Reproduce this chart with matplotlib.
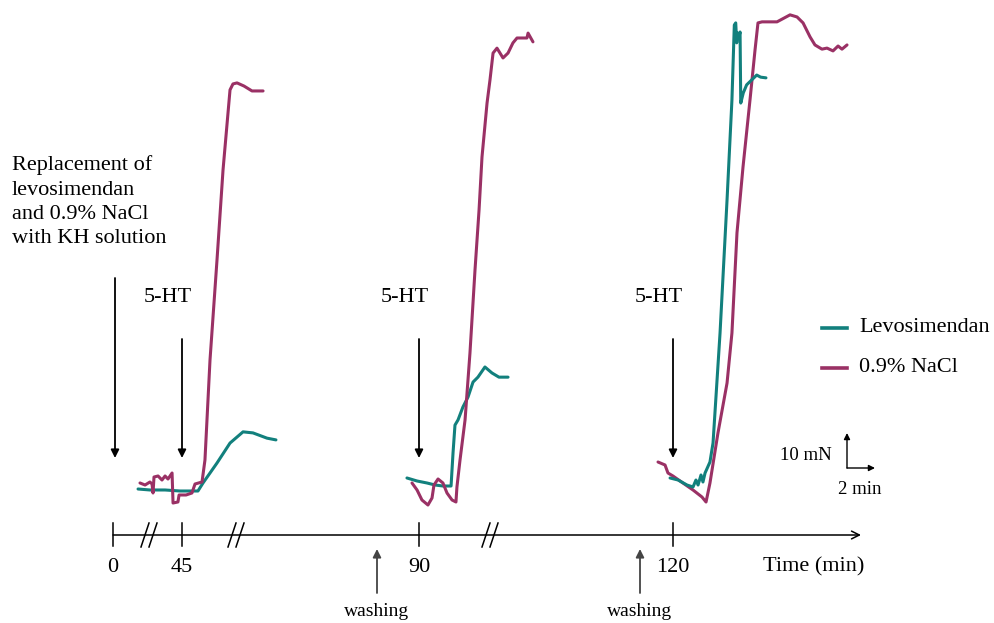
import numpy as np
import matplotlib.pyplot as plt

plt.rcParams['font.family'] = ['Liberation Serif', 'DejaVu Serif']

# --- записи сокращения: время от добавления 5-HT (мин), прирост силы (мН) ---
# 45 мин
levo_45_t = [-3.14, -2.29, -1.21, -0.14, 1.14, 1.5, 2.0, 2.5, 3.43, 4.36, 5.07, 6.07, 6.71]
levo_45_f = [0.57, 0.29, 0.29, 0.0, 0.0, 2.29, 5.14, 8.0, 13.7, 16.9, 16.6, 15.1, 14.6]
nacl_45_t = [-3.0, -2.64, -2.29, -2.14, -2.07, -2.0, -1.71, -1.43, -1.21, -1.0, -0.71, -0.64,
             -0.29, -0.21, 0.29, 0.71, 0.93, 1.43, 1.64, 2.0, 2.5, 2.93, 3.43, 3.64, 3.93,
             4.43, 5.0, 5.79]
nacl_45_f = [2.29, 1.71, 2.57, 2.0, -0.57, 4.0, 4.29, 3.14, 4.29, 3.43, 5.14, -3.43,
             -3.14, -1.14, -1.14, -0.57, 2.0, 2.57, 8.86, 37.4, 66.0, 91.7, 114.6, 116.3, 116.6,
             115.7, 114.3, 114.3]
# 90 мин
levo_90_t = [-0.86, -0.14, 0.57, 1.14, 1.71, 2.29, 2.43, 2.57, 2.79, 3.14, 3.5, 3.86, 4.21,
             4.71, 5.21, 5.71, 6.36]
levo_90_f = [2.29, 1.43, 0.86, 0.29, 0.0, 0.0, 9.43, 17.4, 18.9, 22.6, 25.4, 29.7, 31.1,
             34.0, 32.3, 31.1, 31.1]
nacl_90_t = [-0.5, -0.14, 0.21, 0.64, 0.93, 1.07, 1.36, 1.71, 2.0, 2.36, 2.64, 2.71, 2.93,
             3.29, 3.64, 4.0, 4.29, 4.5, 4.86, 5.07, 5.29, 5.57, 6.0, 6.36, 6.71, 7.0, 7.71,
             7.79, 8.14]
nacl_90_f = [0.86, -1.14, -4.0, -5.43, -3.43, 0.29, 2.0, 0.86, -2.0, -4.0, -4.57, -0.29, 7.43,
             18.9, 38.0, 61.7, 78.9, 94.0, 109.4, 116.0, 123.7, 125.1, 122.3, 123.7, 126.6, 128.0, 128.0,
             129.4, 126.9]
# 120 мин
levo_120_t = [-0.21, 0.36, 1.0, 1.43, 1.64, 1.79, 2.0, 2.14, 2.29, 2.64, 2.86, 3.36, 3.86,
              4.21, 4.38, 4.48, 4.55, 4.62, 4.71, 4.79, 4.84, 5.02, 5.26, 5.62, 5.98, 6.26, 6.64]
levo_120_f = [0.57, 0.0, -1.43, -2.0, 0.0, -1.43, 1.43, -0.57, 2.0, 5.14, 10.6, 42.0, 80.0,
              108.6, 130.0, 130.6, 124.9, 127.7, 126.6, 128.0, 107.7, 110.6, 112.9, 114.3, 115.7, 115.1, 114.9]
nacl_120_t = [-1.07, -0.57, -0.36, 0.0, 0.71, 1.43, 2.07, 2.36, 2.64, 3.21, 3.86, 4.21, 4.57,
              5.0, 5.5, 5.86, 6.07, 6.36, 7.43, 8.36, 8.86, 9.29, 9.79, 10.14, 10.64, 11.0,
              11.43, 11.79, 12.07, 12.43]
nacl_120_f = [5.14, 4.29, 2.0, 1.14, -0.86, -2.86, -4.86, -6.29, -0.86, 13.4, 27.7, 42.0, 70.6,
              89.4, 108.6, 122.9, 130.6, 130.9, 130.9, 132.9, 132.3, 130.6, 126.6, 124.3, 123.1, 123.4,
              122.6, 124.0, 123.1, 124.3]

tick_labels = ['0', '45', '90', '120']
series_names = ['Levosimendan', '0.9% NaCl']
colors = ['#12807d', '#9a3165']

# масштаб рисунка
PX_PER_MIN = 14.0
PX_PER_MN = 3.5
seg_x = [182, 419, 673]          # положение стрелок 5-HT по горизонтали
seg_y = [491, 486, 480]          # базовая линия каждой записи
tick_x = [113] + seg_x

fig = plt.figure(figsize=(9.95, 6.23), dpi=100)
ax = fig.add_axes([0, 0, 1, 1])
ax.set_xlim(0, 995)
ax.set_ylim(623, 0)
ax.axis('off')


def trace(t, f, i, color):
    x = seg_x[i] + np.array(t) * PX_PER_MIN
    y = seg_y[i] - np.array(f) * PX_PER_MN
    ax.plot(x, y, color=color, lw=2.2, solid_joinstyle='round', solid_capstyle='round')


trace(levo_45_t, levo_45_f, 0, colors[0])
trace(nacl_45_t, nacl_45_f, 0, colors[1])
trace(levo_90_t, levo_90_f, 1, colors[0])
trace(nacl_90_t, nacl_90_f, 1, colors[1])
trace(nacl_120_t, nacl_120_f, 2, colors[1])
trace(levo_120_t, levo_120_f, 2, colors[0])

arrow = dict(arrowstyle='-|>', color='black', lw=1.3, mutation_scale=12, shrinkA=0, shrinkB=0)

# замена раствора
ax.text(12, 202, 'Replacement of\nlevosimendan\nand 0.9% NaCl\nwith KH solution',
        fontsize=16, ha='left', va='center', linespacing=1.38)
ax.annotate('', xy=(115, 458), xytext=(115, 278), arrowprops=arrow)

# добавление 5-HT
for xs in seg_x:
    ax.annotate('', xy=(xs, 458), xytext=(xs, 339), arrowprops=arrow)
    ax.text(xs - 14, 298, '5-HT', fontsize=16, ha='center', va='center')

# ось времени
ax.annotate('', xy=(861, 535), xytext=(113, 535),
            arrowprops=dict(arrowstyle='->', color='black', lw=1.1, mutation_scale=14,
                            shrinkA=0, shrinkB=0))
for xs, lab in zip(tick_x, tick_labels):
    ax.plot([xs, xs], [523, 546], color='black', lw=1.1)
    ax.text(xs, 567, lab, fontsize=16, ha='center', va='center')
ax.text(763, 567, 'Time (min)', fontsize=16, ha='left', va='center')
for xb in [149, 236, 490]:
    for dx in (-4, 4):
        ax.plot([xb + dx - 4, xb + dx + 4], [547, 523], color='black', lw=1.1)

# отмывка
for xw in [377, 640]:
    ax.annotate('', xy=(xw, 549), xytext=(xw, 593),
                arrowprops=dict(arrowstyle='-|>', color='#444444', lw=1.3, mutation_scale=12,
                                shrinkA=0, shrinkB=0))
    ax.text(xw, 612, 'washing', fontsize=14, ha='center', va='center')

# легенда
for k, (name, c) in enumerate(zip(series_names, colors)):
    yl = 328 + 40 * k
    ax.plot([822, 847], [yl, yl], color=c, lw=2.6)
    ax.text(859, yl, name, fontsize=16, ha='left', va='center')

# масштабная метка
sb = dict(arrowstyle='-|>', color='black', lw=1.0, mutation_scale=9, shrinkA=0, shrinkB=0)
ax.annotate('', xy=(847, 468 - 10 * PX_PER_MN), xytext=(847, 468), arrowprops=sb)
ax.annotate('', xy=(847 + 2 * PX_PER_MIN, 468), xytext=(847, 468), arrowprops=sb)
ax.text(832, 455, '10 mN', fontsize=13.5, ha='right', va='center')
ax.text(860, 489, '2 min', fontsize=13.5, ha='center', va='center')

fig.savefig('out.png', dpi=100)
